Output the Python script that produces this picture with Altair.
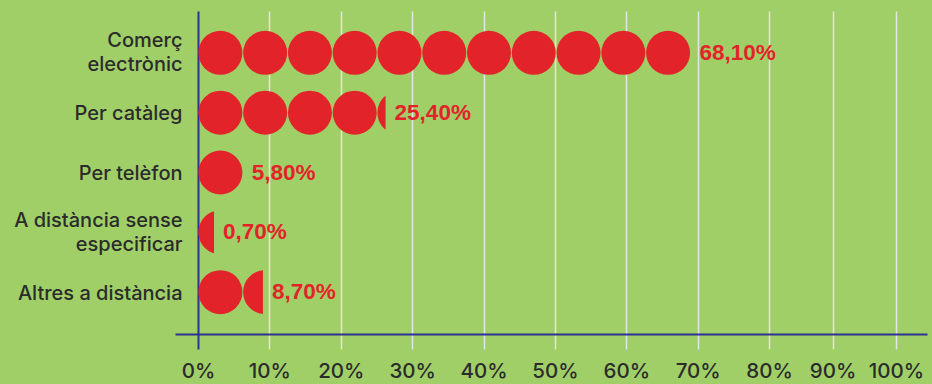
import math
import altair as alt
import pandas as pd

# ---- data ----
categories = ["Comerç electrònic", "Per catàleg", "Per telèfon",
              "A distància sense especificar", "Altres a distància"]
values = [68.10, 25.40, 5.80, 0.70, 8.70]
# number of circles drawn on each row
icons = [11.0, 4.19, 1.0, 0.357, 1.45]
tick_values = [0, 10, 20, 30, 40, 50, 60, 70, 80, 90, 100]

# ---- style ----
RED = "#e3232a"
GREEN = "#a0cf67"
BLUE = "#2e3192"
GRID = "#e4e4e4"
TEXT = "#2b2b2b"
PX_PER_PCT = 7.1375      # pixels per percentage point on the axis (0-80 %)
PITCH = 44.77            # px between circle centres
R = 22                   # circle radius, px
UNIT = PITCH / PX_PER_PCT  # % per circle


def clipped_circle(xc, n=48):
    """Unit circle kept only left of x = xc (SVG path in [-1,1] box)."""
    t0 = math.acos(xc)
    pts = []
    for k in range(n + 1):
        t = t0 + (2 * math.pi - 2 * t0) * k / n
        pts.append(f"{math.cos(t):.4f},{math.sin(t):.4f}")
    return "M" + " L".join(pts) + " Z"


rows = []
for cat, n in zip(categories, icons):
    i = 0
    while i < n:
        centre = (i + 0.5) * UNIT
        xc = (n - i - 0.5) * PITCH / R
        shape = "circle" if xc >= 0.999 else clipped_circle(max(-1.0, xc))
        rows.append({"cat": cat, "x": centre, "shape": shape})
        i += 1
circles = pd.DataFrame(rows)

labels = pd.DataFrame({
    "cat": categories,
    "end": [n * UNIT for n in icons],
    "txt": [f"{v:.2f}".replace(".", ",") + "%" for v in values],
})

xscale = alt.Scale(domain=[-3.22, 0, 80, 100, 104.88],
                   range=[0, 23, 594, 721, 752], nice=False, zero=False)
yscale = alt.Scale(type="point", padding=0.7, domain=categories)

TWO_LINE = "datum.value == 'Comerç electrònic' || datum.value == 'A distància sense especificar'"

xaxis = alt.Axis(
    values=tick_values, labelExpr="datum.value + '%'", title=None,
    grid=True,
    gridColor={"condition": {"test": "datum.value === 0", "value": BLUE}, "value": GRID},
    gridWidth={"condition": {"test": "datum.value === 0", "value": 2}, "value": 1.5},
    ticks=True, tickSize=15,
    tickColor={"condition": {"test": "datum.value === 0", "value": BLUE}, "value": GRID},
    tickWidth={"condition": {"test": "datum.value === 0", "value": 2}, "value": 1.5},
    domain=True, domainColor=BLUE, domainWidth=2,
    labelFont="Inter", labelFontWeight=500, labelFontSize=20.5, labelColor=TEXT,
    labelPadding=12, labelFlush=False,
)
yaxis = alt.Axis(
    title=None, domain=False, ticks=False, grid=False,
    labelFont="Inter", labelFontWeight=500, labelFontSize=20, labelColor=TEXT,
    labelPadding=-7, labelLimit=0, labelLineHeight=24, labelAlign="right",
    labelOffset={"condition": {"test": TWO_LINE, "value": -12}, "value": 1},
    labelExpr=("datum.label == 'Comerç electrònic' ? ['Comerç', 'electrònic'] : "
               "datum.label == 'A distància sense especificar' ? "
               "['A distància sense', 'especificar'] : datum.label"),
)

dots = alt.Chart(circles).mark_point(
    filled=True, size=(2 * R) ** 2, opacity=1, color=RED, strokeWidth=0
).encode(
    x=alt.X("x:Q", scale=xscale, axis=xaxis),
    y=alt.Y("cat:N", scale=yscale, axis=yaxis, sort=categories),
    shape=alt.Shape("shape:N", scale=None, legend=None),
)

text = alt.Chart(labels).mark_text(
    align="left", baseline="middle", dx=9, font="Liberation Sans",
    fontWeight="bold", fontSize=22.5, color=RED
).encode(
    x=alt.X("end:Q", scale=xscale),
    y=alt.Y("cat:N", scale=yscale, sort=categories),
    text="txt:N",
)

chart = alt.layer(dots, text).properties(
    width=752, height=323,
    padding={"left": 175, "top": 11, "right": 5, "bottom": 50},
    autosize=alt.AutoSizeParams(type="none"),
    background=GREEN,
).configure_view(stroke=None)

chart.save("out.html", embed_options={"renderer": "svg", "actions": False})
